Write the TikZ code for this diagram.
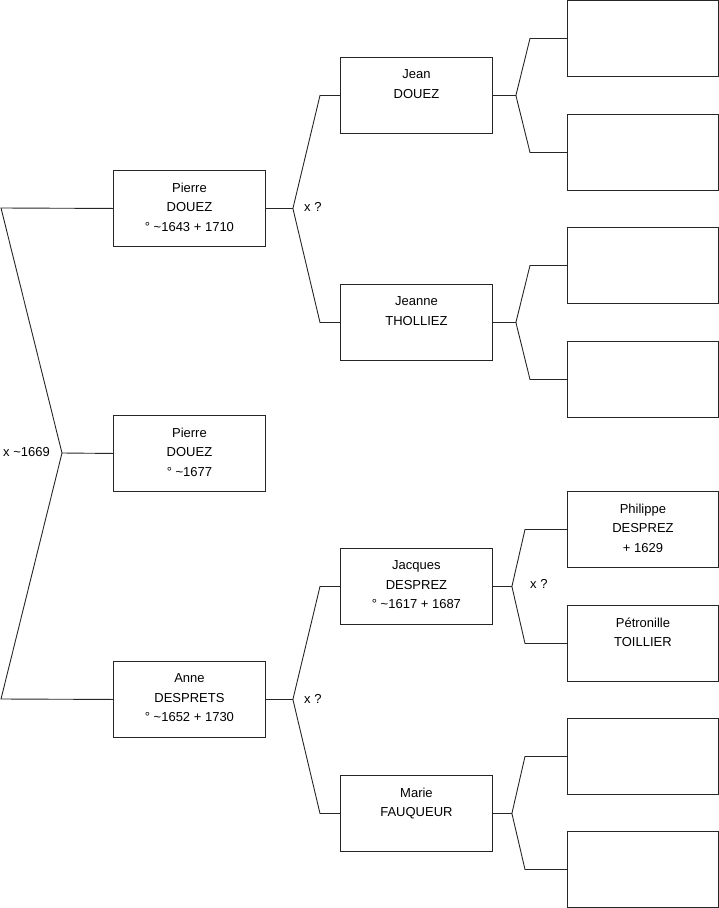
\documentclass[tikz,border=0pt]{standalone}
\usepackage{fontspec}
\setmainfont{Liberation Sans}
\usetikzlibrary{calc}
\tikzset{
  x=1pt, y=-1pt,
  person/.style={draw=black!85, line width=0.9pt, minimum width=152pt, minimum height=76pt, inner sep=0pt, anchor=north west},
  ptext/.style={anchor=north, inner sep=0pt, align=center, font=\fontsize{13}{19.5}\selectfont, execute at begin node={\rule{0pt}{10pt}}},
  lbl/.style={anchor=base west, inner sep=0pt, font=\fontsize{13}{15}\selectfont},
  link/.style={draw=black!85, line width=0.9pt}
}
\begin{document}
\begin{tikzpicture}
\useasboundingbox (0,0) rectangle (719,908);
% generation 1
\node[person] (p1) at (113,170) {};
\node[person] (p0) at (113,415) {};
\node[person] (anne) at (113,661) {};
% generation 2
\node[person] (jean) at (340,57) {};
\node[person] (jeanne) at (340,284) {};
\node[person] (jacques) at (340,548) {};
\node[person] (marie) at (340,775) {};
% generation 3
\node[person, minimum width=151pt] (r1) at (567,0) {};
\node[person, minimum width=151pt] (r2) at (567,114) {};
\node[person, minimum width=151pt] (r3) at (567,227) {};
\node[person, minimum width=151pt] (r4) at (567,341) {};
\node[person, minimum width=151pt] (r5) at (567,491) {};
\node[person, minimum width=151pt] (r6) at (567,605) {};
\node[person, minimum width=151pt] (r7) at (567,718) {};
\node[person, minimum width=151pt] (r8) at (567,831) {};
% texts
\node[ptext] (t-p1) at ([yshift=-12.5pt]p1.north) {Pierre\\DOUEZ\\° \textasciitilde1643 + 1710};
\node[ptext] (t-p0) at ([yshift=-12.5pt]p0.north) {Pierre\\DOUEZ\\° \textasciitilde1677};
\node[ptext] (t-anne) at ([yshift=-12.5pt]anne.north) {Anne\\DESPRETS\\° \textasciitilde1652 + 1730};
\node[ptext] (t-jean) at ([yshift=-12.5pt]jean.north) {Jean\\DOUEZ};
\node[ptext] (t-jeanne) at ([yshift=-12.5pt]jeanne.north) {Jeanne\\THOLLIEZ};
\node[ptext] (t-jacques) at ([yshift=-12.5pt]jacques.north) {Jacques\\DESPREZ\\° \textasciitilde1617 + 1687};
\node[ptext] (t-marie) at ([yshift=-12.5pt]marie.north) {Marie\\FAUQUEUR};
\node[ptext] (t-r5) at ([yshift=-12.5pt]r5.north) {Philippe\\DESPREZ\\+ 1629};
\node[ptext] (t-r6) at ([yshift=-12.5pt]r6.north) {Pétronille\\TOILLIER};
% left bracket
\coordinate (L1) at (1,208);
\coordinate (L2) at (1,699);
\coordinate (LA) at (62,453);
\draw[link] (p1.west) -- (L1) -- (LA) -- (L2) -- (anne.west);
\draw[link] (LA) -- (p0.west);
\node[lbl] (m0) at (3,456) {x \textasciitilde1669};
% bracket p1
\coordinate (A1) at ([xshift=27pt]p1.east);
\draw[link] (p1.east) -- (A1) -- ([xshift=-20pt]jean.west) -- (jean.west);
\draw[link] (A1) -- ([xshift=-20pt]jeanne.west) -- (jeanne.west);
\node[lbl] (m1) at (304,211) {x ?};
% bracket anne
\coordinate (A2) at ([xshift=27pt]anne.east);
\draw[link] (anne.east) -- (A2) -- ([xshift=-20pt]jacques.west) -- (jacques.west);
\draw[link] (A2) -- ([xshift=-20pt]marie.west) -- (marie.west);
\node[lbl] (m2) at (304,703) {x ?};
% bracket jean
\coordinate (A3) at ([xshift=23pt]jean.east);
\draw[link] (jean.east) -- (A3) -- ([xshift=-37pt]r1.west) -- (r1.west);
\draw[link] (A3) -- ([xshift=-37pt]r2.west) -- (r2.west);
% bracket jeanne
\coordinate (A4) at ([xshift=23pt]jeanne.east);
\draw[link] (jeanne.east) -- (A4) -- ([xshift=-37pt]r3.west) -- (r3.west);
\draw[link] (A4) -- ([xshift=-37pt]r4.west) -- (r4.west);
% bracket jacques
\coordinate (A5) at ([xshift=19pt]jacques.east);
\draw[link] (jacques.east) -- (A5) -- ([xshift=-42pt]r5.west) -- (r5.west);
\draw[link] (A5) -- ([xshift=-42pt]r6.west) -- (r6.west);
\node[lbl] (m3) at (530,588) {x ?};
% bracket marie
\coordinate (A6) at ([xshift=19pt]marie.east);
\draw[link] (marie.east) -- (A6) -- ([xshift=-42pt]r7.west) -- (r7.west);
\draw[link] (A6) -- ([xshift=-42pt]r8.west) -- (r8.west);
\end{tikzpicture}
\end{document}
